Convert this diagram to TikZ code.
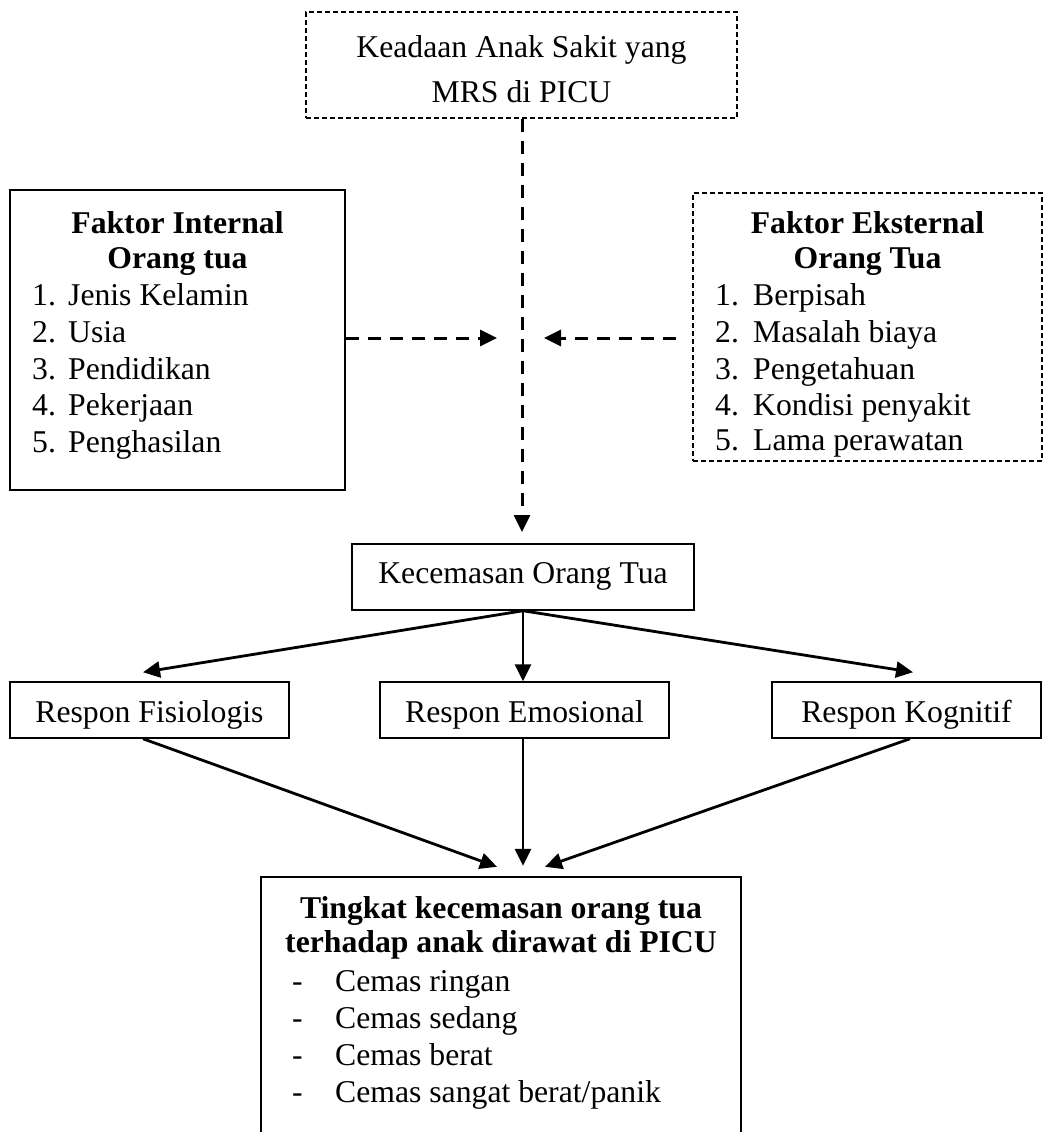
\documentclass[tikz,border=0pt]{standalone}
\usepackage{fontspec}
\setmainfont{Liberation Serif}
\usetikzlibrary{arrows.meta,calc}
\begin{document}
\begin{tikzpicture}[x=1pt,y=-1pt,
  txt/.style={inner sep=0pt, font=\fontsize{31.7}{38}\selectfont},
  hd/.style={inner sep=0pt, font=\fontsize{31.7}{38}\selectfont\bfseries, anchor=base},
  item/.style={txt, anchor=base west},
  solidbox/.style={draw, line width=1.5pt, inner sep=0pt},
  finedash/.style={draw, line width=1.3pt, dash pattern=on 5pt off 3pt, inner sep=0pt},
  dconn/.style={line width=3pt, dash pattern=on 13pt off 9pt, -{Triangle[length=17pt,width=16pt]}},
  sconn/.style={line width=2.8pt, -{Triangle[length=17pt,width=16pt]}}
]
\useasboundingbox (0,0) rectangle (1043,1132);

% boxes
\node[finedash, minimum width=431pt, minimum height=106pt] (top) at (521.5,65) {};
\node[solidbox, minimum width=335pt, minimum height=300pt] (left) at (177.5,340) {};
\node[finedash, minimum width=349pt, minimum height=268pt] (right) at (867.5,327) {};
\node[solidbox, minimum width=342pt, minimum height=66pt] (kec) at (523,577) {};
\node[solidbox, minimum width=279pt, minimum height=56pt] (fis) at (149.5,710) {};
\node[solidbox, minimum width=289pt, minimum height=56pt] (emo) at (524.5,710) {};
\node[solidbox, minimum width=269pt, minimum height=56pt] (kog) at (906.5,710) {};
\node[inner sep=0pt, minimum width=480pt, minimum height=255pt] (bot) at (501,1004.5) {};
\draw[line width=1.5pt] (bot.south west) -- (bot.north west) -- (bot.north east) -- (bot.south east);

% texts: top
\node[txt, anchor=base] (t1) at (521.5,58) {Keadaan Anak Sakit yang};
\node[txt, anchor=base] (t2) at (521.5,102) {MRS di PICU};

% left
\node[hd] (l0) at (177.5,233) {Faktor Internal};
\node[hd] (l00) at (177.5,268) {Orang tua};
\node[item] (l1) at (32,305) {\makebox[36pt][l]{1.}Jenis Kelamin};
\node[item] (l2) at (32,342) {\makebox[36pt][l]{2.}Usia};
\node[item] (l3) at (32,379) {\makebox[36pt][l]{3.}Pendidikan};
\node[item] (l4) at (32,415) {\makebox[36pt][l]{4.}Pekerjaan};
\node[item] (l5) at (32,452) {\makebox[36pt][l]{5.}Penghasilan};

% right
\node[hd] (r0) at (867.5,233) {Faktor Eksternal};
\node[hd] (r00) at (867.5,268) {Orang Tua};
\node[item] (r1) at (715,305) {\makebox[38pt][l]{1.}Berpisah};
\node[item] (r2) at (715,342) {\makebox[38pt][l]{2.}Masalah biaya};
\node[item] (r3) at (715,379) {\makebox[38pt][l]{3.}Pengetahuan};
\node[item] (r4) at (715,415) {\makebox[38pt][l]{4.}Kondisi penyakit};
\node[item] (r5) at (715,450) {\makebox[38pt][l]{5.}Lama perawatan};

% middle
\node[txt, anchor=base] (kt) at (523,583) {Kecemasan Orang Tua};
\node[txt, anchor=base] (ft) at (149.5,722) {Respon Fisiologis};
\node[txt, anchor=base] (et) at (524.5,722) {Respon Emosional};
\node[txt, anchor=base] (gt) at (906.5,722) {Respon Kognitif};

% bottom
\node[hd] (b0) at (501,918) {Tingkat kecemasan orang tua};
\node[hd] (b00) at (501,952) {terhadap anak dirawat di PICU};
\node[item] (b1) at (292,991) {\makebox[43pt][l]{-}Cemas ringan};
\node[item] (b2) at (292,1028) {\makebox[43pt][l]{-}Cemas sedang};
\node[item] (b3) at (292,1065) {\makebox[43pt][l]{-}Cemas berat};
\node[item] (b4) at (292,1102) {\makebox[43pt][l]{-}Cemas sangat berat/panik};

% coordinates
\coordinate (mid) at (522,338);
\coordinate (vtip) at (522,532);

% dashed connectors
\draw[dconn] (top.south -| mid) -- (vtip);
\draw[dconn] (left.east |- mid) -- ([xshift=-25pt]mid);
\draw[dconn, shorten <=16pt] (right.west |- mid) -- ([xshift=22pt]mid);

% solid connectors
\draw[sconn] (kec.south) -- ([xshift=-6.5pt,yshift=9pt]fis.north);
\draw[sconn] (kec.south) -- (kec.south |- emo.north);
\draw[sconn] (kec.south) -- ([xshift=6.5pt,yshift=9pt]kog.north);

\draw[sconn] ([xshift=-6.5pt]fis.south) -- ([xshift=-4pt,yshift=10pt]bot.north);
\draw[sconn] ([xshift=-1.5pt]emo.south) -- ([xshift=22pt,yshift=11pt]bot.north);
\draw[sconn] ([xshift=3.5pt]kog.south) -- ([xshift=44pt,yshift=10pt]bot.north);
\end{tikzpicture}
\end{document}
